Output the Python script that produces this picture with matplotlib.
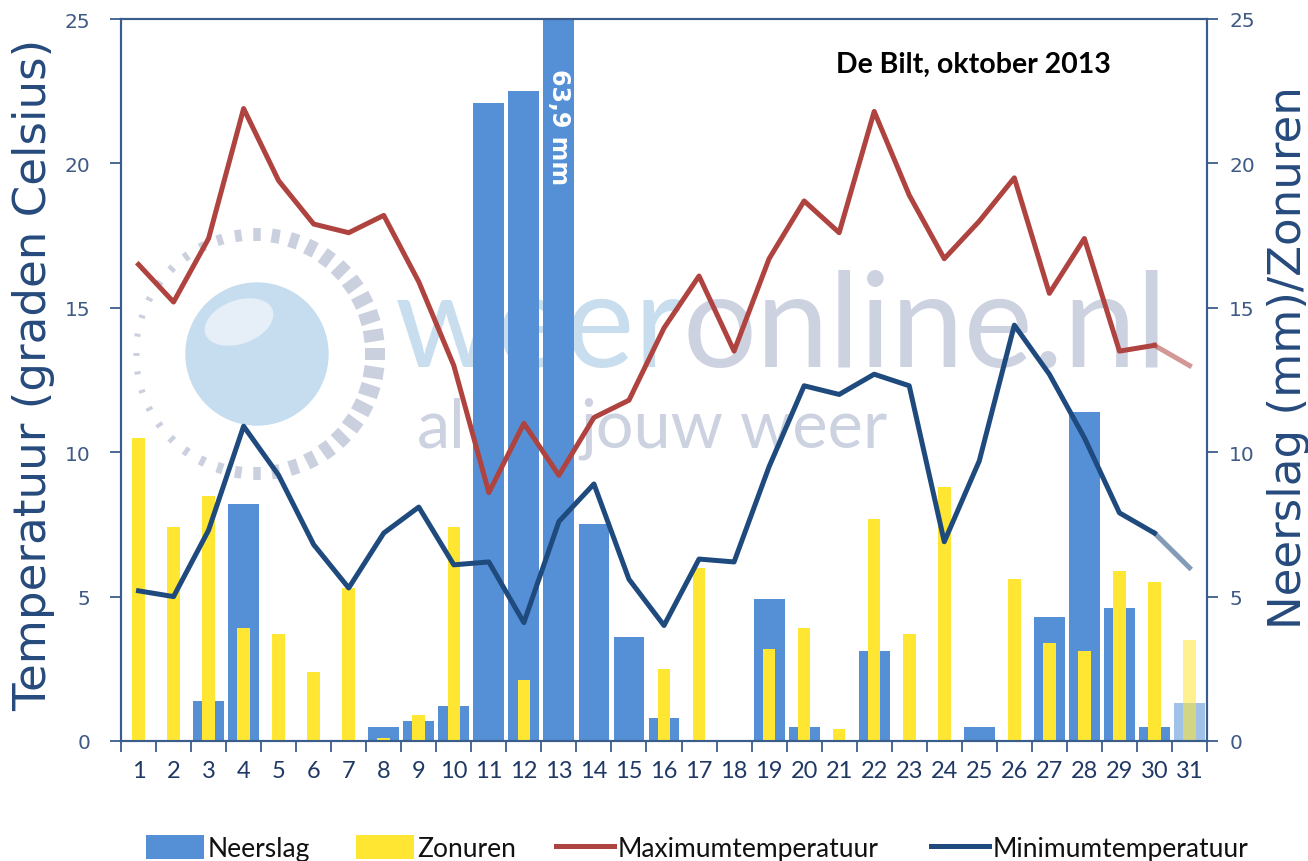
import matplotlib
matplotlib.use('Agg')
import matplotlib.pyplot as plt
import numpy as np
from matplotlib.patches import Patch, Circle, Ellipse
from matplotlib.lines import Line2D
from matplotlib.colors import to_rgba

# ---------------- data ----------------
days = list(range(1, 32))
neerslag = [0, 0, 1.4, 8.2, 0, 0, 0, 0.5, 0.7, 1.2, 22.1, 22.5, 63.9, 7.5, 3.6, 0.8,
            0, 0, 4.9, 0.5, 0, 3.1, 0, 0, 0.5, 0, 4.3, 11.4, 4.6, 0.5, 1.3]
zonuren = [10.5, 7.4, 8.5, 3.9, 3.7, 2.4, 5.3, 0.1, 0.9, 7.4, 0, 2.1, 0, 0, 0, 2.5,
           6.0, 0, 3.2, 3.9, 0.4, 7.7, 3.7, 8.8, 0, 5.6, 3.4, 3.1, 5.9, 5.5, 3.5]
tmax = [16.5, 15.2, 17.4, 21.9, 19.4, 17.9, 17.6, 18.2, 15.9, 13.0, 8.6, 11.0, 9.2,
        11.2, 11.8, 14.3, 16.1, 13.5, 16.7, 18.7, 17.6, 21.8, 18.9, 16.7, 18.0, 19.5,
        15.5, 17.4, 13.5, 13.7, 13.0]
tmin = [5.2, 5.0, 7.3, 10.9, 9.2, 6.8, 5.3, 7.2, 8.1, 6.1, 6.2, 4.1, 7.6, 8.9, 5.6,
        4.0, 6.3, 6.2, 9.5, 12.3, 12.0, 12.7, 12.3, 6.9, 9.7, 14.4, 12.7, 10.5, 7.9,
        7.2, 6.0]
observed_days = 30          # day 31 is shown lighter (incomplete)
peak_day = 13
peak_label = '63,9 mm'
title = 'De Bilt, oktober 2013'
y_ticks = [0, 5, 10, 15, 20, 25]

# ---------------- styles ----------------
C_BLUE = '#5590D6'
C_YELLOW = '#FFE633'
C_RED = '#AF433F'
C_NAVY = '#1F4A7E'
C_AXIS = '#3A5D8C'
C_TICK = '#3F5A85'
NARROW = ['Lato', 'DejaVu Sans']

W, H = 1308, 862
fig = plt.figure(figsize=(W / 100, H / 100), dpi=100)

# background axes in pixel coordinates for the watermark
bg = fig.add_axes([0, 0, 1, 1], zorder=0)
bg.set_xlim(0, W)
bg.set_ylim(H, 0)
bg.axis('off')

# watermark logo
cx, cy = 257, 355
for th in np.arange(0, 360, 9):
    t = np.deg2rad(th)
    f = (1 + np.cos(t)) / 2
    r_in, r_out = 118 - 10 * f, 124 + 4 * f
    bg.plot([cx + r_in * np.cos(t), cx + r_out * np.cos(t)],
            [cy - r_in * np.sin(t), cy - r_out * np.sin(t)],
            color='#CBD0DF', lw=(3 + 9 * f) * 0.72, solid_capstyle='butt', zorder=1)
bg.add_patch(Circle((cx, cy), 71, color='#C6DDEF', zorder=1))
bg.add_patch(Ellipse((cx - 18, cy - 32), 70, 42, angle=-20, color='#E6EFF8', zorder=1))

t1 = bg.text(395, 367, 'weer', fontsize=94, family=NARROW, color='#C8DEEE',
             va='baseline', ha='left', zorder=1)
fig.canvas.draw()
bb = t1.get_window_extent()
x_end = bg.transData.inverted().transform((bb.x1, bb.y0))[0]
bg.text(x_end, 367, 'online.nl', fontsize=94, family=NARROW, color='#CDD2E1',
        va='baseline', ha='left', zorder=1)
bg.text(417, 448, 'al', fontsize=48, family=NARROW, color='#CDD2E1',
        va='baseline', ha='left', zorder=1)
bg.text(580, 448, 'jouw weer', fontsize=48, family=NARROW, color='#CDD2E1',
        va='baseline', ha='left', zorder=1)

# ---------------- main axes ----------------
left, right = 121 / W, 1207 / W
bottom, top = 1 - 742 / H, 1 - 20 / H
ax = fig.add_axes([left, bottom, right - left, top - bottom], zorder=2)
ax.patch.set_visible(False)

blue_cols = [to_rgba(C_BLUE, 1.0 if d <= observed_days else 0.55) for d in days]
yel_cols = [to_rgba(C_YELLOW, 1.0 if d <= observed_days else 0.55) for d in days]
ax.bar(days, neerslag, width=0.88, color=blue_cols, zorder=2)
ax.bar(days, zonuren, width=0.36, color=yel_cols, zorder=3)

n = observed_days
ax.plot(days[:n], tmax[:n], color=C_RED, lw=3.6, zorder=4)
ax.plot(days[n - 1:], tmax[n - 1:], color=C_RED, lw=3.6, alpha=0.55, zorder=4)
ax.plot(days[:n], tmin[:n], color=C_NAVY, lw=3.6, zorder=5)
ax.plot(days[n - 1:], tmin[n - 1:], color=C_NAVY, lw=3.6, alpha=0.55, zorder=5)

ax.text(peak_day, 21.3, peak_label, rotation=-90, ha='center', va='center',
        color='white', fontsize=17, fontweight='bold', zorder=6)

ax.set_xlim(0.5, 31.5)
ax.set_ylim(0, 25)
ax.set_xticks(days)
ax.set_xticklabels([str(d) for d in days], family=NARROW, fontsize=17, color='#1F3864')
ax.set_xticks(np.arange(0.5, 32, 1), minor=True)
ax.tick_params(axis='x', which='major', length=0, pad=14)
ax.tick_params(axis='x', which='minor', length=8, width=1.3, color=C_AXIS, direction='out')
ax.set_yticks(y_ticks)
ax.tick_params(axis='y', length=8, width=1.3, color=C_AXIS, direction='out',
               labelsize=14.5, labelcolor=C_TICK, pad=14)
for s in ax.spines.values():
    s.set_color(C_AXIS)
    s.set_linewidth(1.5)

ax2 = ax.twinx()
ax2.set_zorder(3)
ax2.patch.set_visible(False)
ax2.set_ylim(0, 25)
ax2.set_yticks(y_ticks)
ax2.tick_params(axis='y', length=8, width=1.3, color=C_AXIS, direction='out',
                labelsize=14.5, labelcolor=C_TICK, pad=8)
for s in ax2.spines.values():
    s.set_color(C_AXIS)
    s.set_linewidth(1.5)

fig.text(34 / W, 1 - 375 / H, 'Temperatuur (graden Celsius)', rotation=90,
         ha='center', va='center', fontsize=32.5, color='#264A7C')
fig.text(1289 / W, 1 - 358 / H, 'Neerslag (mm)/Zonuren', rotation=90,
         ha='center', va='center', fontsize=32.5, color='#264A7C')
fig.text(973 / W, 1 - 65 / H, title, ha='center', va='center', fontsize=20.5,
         fontweight='bold', family=NARROW, color='black')

# legends
leg_y = 1 - 849 / H
entries = [
    (Patch(facecolor=C_BLUE), 'Neerslag', 146),
    (Patch(facecolor=C_YELLOW), 'Zonuren', 356),
    (Line2D([], [], color=C_RED, lw=3.6), 'Maximumtemperatuur', 556),
    (Line2D([], [], color=C_NAVY, lw=3.6), 'Minimumtemperatuur', 931),
]
for h, lab, xp in entries:
    fig.legend([h], [lab], loc='center left', bbox_to_anchor=(xp / W, leg_y),
               frameon=False, handlelength=2.2, handleheight=1.0, handletextpad=0.12,
               borderpad=0, borderaxespad=0,
               prop={'family': NARROW, 'size': 19}, labelcolor='#111111')

fig.savefig('out.png', dpi=100)
